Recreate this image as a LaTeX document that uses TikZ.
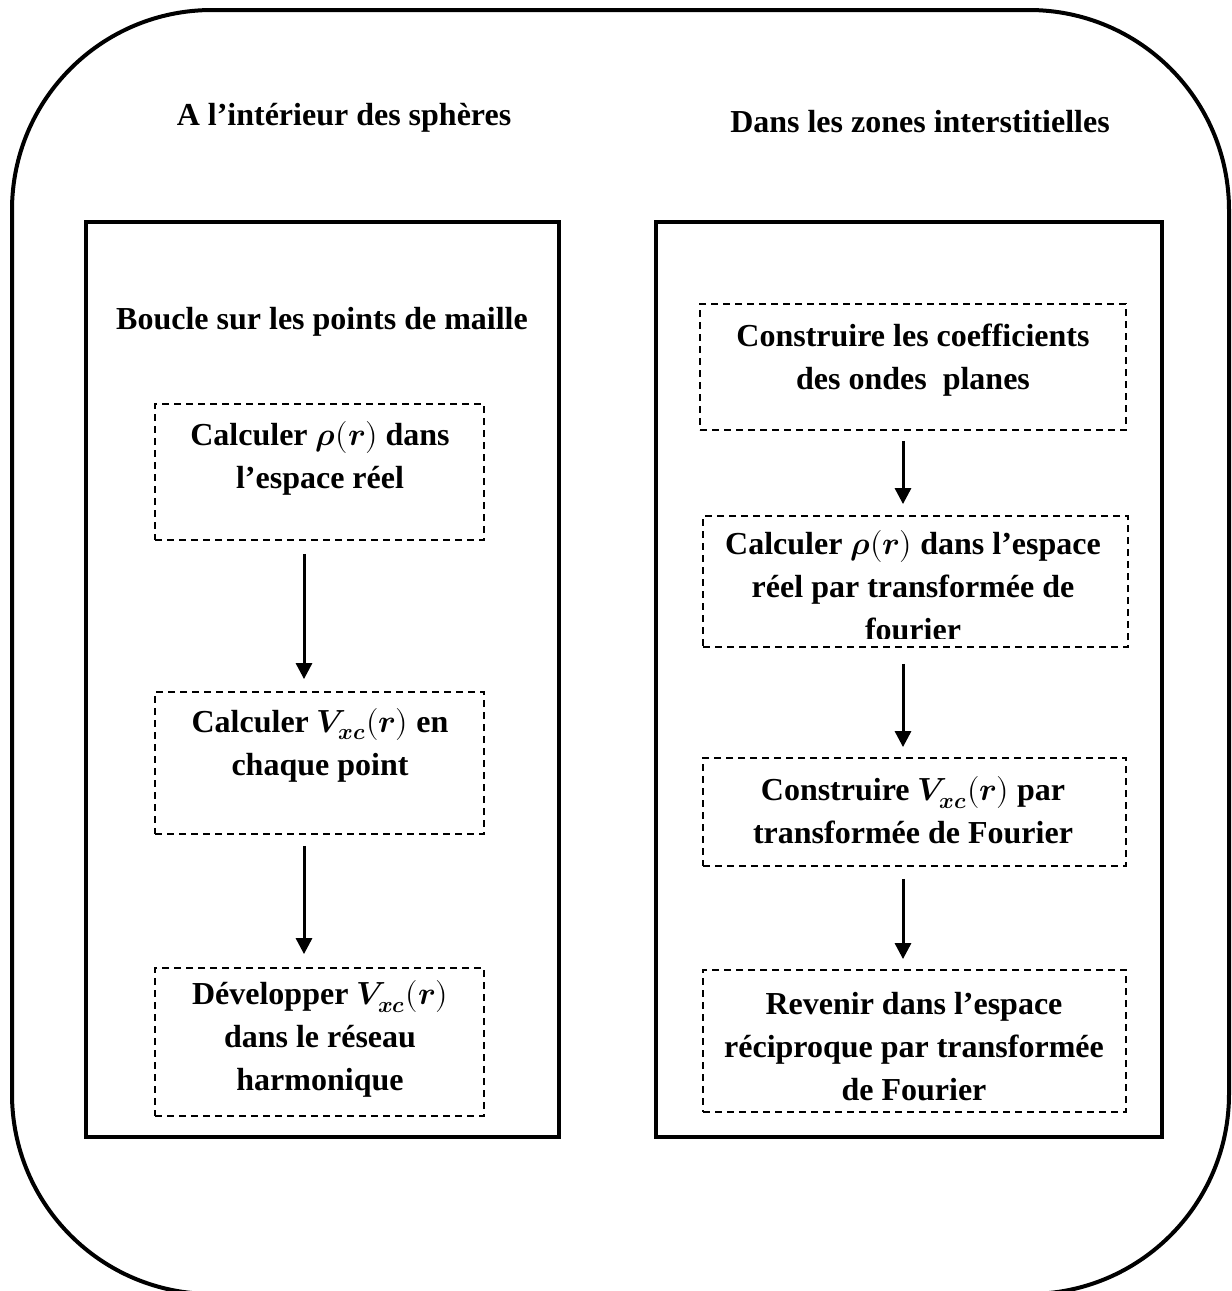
\documentclass[tikz,border=0pt]{standalone}
\usepackage{fontspec}
\usepackage{unicode-math}
\setmainfont{Liberation Serif}
\setmathfont{Latin Modern Math}
\usetikzlibrary{arrows.meta}
% bold italic symbols of the formulas
\newcommand{\rr}{\symbfit{r}}
\newcommand{\dens}{\symbfit{\rho}(\rr)}
\newcommand{\vxc}{\symbfit{V}_{\symbfit{xc}}(\rr)}
\begin{document}
\begin{tikzpicture}[x=0.5pt,y=-0.5pt,
  every node/.style={font=\fontsize{16pt}{21.5pt}\selectfont\bfseries, inner sep=0pt, align=center},
  outerframe/.style={draw, line width=2pt, rounded corners=100pt},
  panel/.style={draw, line width=1.7pt},
  stepbox/.style={draw, dashed, line width=0.9pt, dash pattern=on 3.6pt off 2.4pt, rectangle, inner sep=0pt},
  arr/.style={-{Triangle[length=8pt,width=8pt]}, line width=1.5pt}]
\useasboundingbox (0,0) rectangle (1232,1291);

% outer frame and the two panels
\draw[outerframe] (12,10) rectangle (1229,1294);
\draw[panel] (86,222) rectangle (559,1137);
\draw[panel] (656,222) rectangle (1162,1137);

% headings
\node (hl) at (344,118) {A l'intérieur des sphères};
\node (hr) at (920,122) {Dans les zones interstitielles};
\node (loop) at (322,322) {Boucle sur les points de maille};

% left column boxes
\node[stepbox, minimum width=164.5pt, minimum height=68pt] (l1) at (319.5,472) {};
\node[stepbox, minimum width=164.5pt, minimum height=71pt] (l2) at (319.5,763) {};
\node[stepbox, minimum width=164.5pt, minimum height=74pt] (l3) at (319.5,1042) {};
\node (t1) at (320,458) {Calculer $\dens$ dans\\l'espace réel};
\node (t2) at (320,745) {Calculer $\vxc$ en\\chaque point};
\node (t3) at (320,1039) {Développer $\vxc$\\dans le réseau\\harmonique};

% right column boxes
\node[stepbox, minimum width=213pt, minimum height=63pt] (r1) at (913,367) {};
\node[stepbox, minimum width=212.5pt, minimum height=65.5pt] (r2) at (915.5,581.5) {};
\node[stepbox, minimum width=211.5pt, minimum height=54pt] (r3) at (914.5,812) {};
\node[stepbox, minimum width=211.5pt, minimum height=71pt] (r4) at (914.5,1041) {};
\node (u1) at (913,360) {Construire les coefficients\\des ondes~ planes};
\begin{scope}
  \clip (703,516) rectangle (1128,638);
  \node (u2) at (913,586) {Calculer $\dens$ dans l'espace\\réel par transformée de\\fourier};
\end{scope}
\node (u3) at (913,810) {Construire $\vxc$ par\\transformée de Fourier};
\node (u4) at (914,1047) {Revenir dans l'espace\\réciproque par transformée\\de Fourier};

% flow arrows
\coordinate (ax) at (304,0);
\coordinate (bx) at (903,0);
\draw[arr, shorten <=6.5pt, shorten >=6pt] (l1.south -| ax) -- (l2.north -| ax);
\draw[arr, shorten <=5.5pt, shorten >=6.5pt] (l2.south -| ax) -- (l3.north -| ax);
\draw[arr, shorten <=5pt, shorten >=5.5pt] (r1.south -| bx) -- (r2.north -| bx);
\draw[arr, shorten <=8pt, shorten >=5pt] (r2.south -| bx) -- (r3.north -| bx);
\draw[arr, shorten <=6pt, shorten >=5pt] (r3.south -| bx) -- (r4.north -| bx);
\end{tikzpicture}
\end{document}
